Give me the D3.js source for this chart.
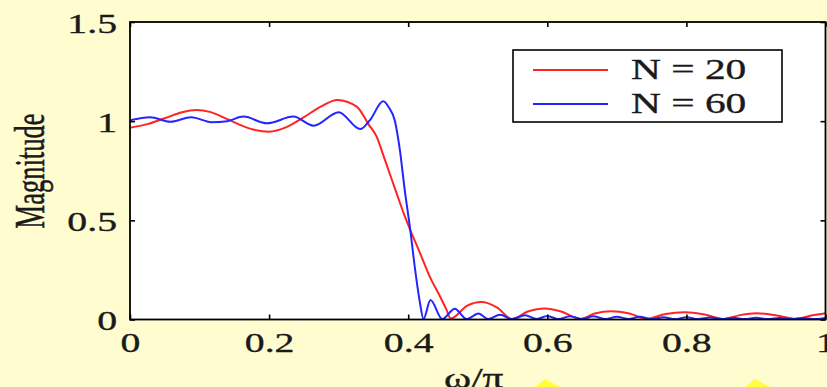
<!DOCTYPE html>
<html>
<head>
    <meta charset="UTF-8">
    <title>Magnitude response, N = 20 and N = 60</title>
    <script src="https://d3js.org/d3.v7.min.js"></script>
    <style type="text/css">
        body { margin: 0; background: #fffdd0; }
        svg text { font-family: "Liberation Serif", "Times New Roman", serif; fill: #1a1a1a; stroke: #1a1a1a; stroke-width: 0.35px; }
    </style>
</head>
<body>
    <svg id="chart"></svg>

    <script>
        // values (omega / pi  ->  |H|)
        const red_w = [0, 0.025, 0.05, 0.075, 0.095, 0.115, 0.14, 0.17, 0.2, 0.225, 0.25, 0.275, 0.298, 0.326,
            0.343, 0.355, 0.364, 0.374, 0.383, 0.393, 0.403, 0.417, 0.431, 0.446, 0.455, 0.461,
            0.485, 0.505, 0.528, 0.549, 0.572, 0.596, 0.62, 0.647, 0.668, 0.692, 0.718, 0.743,
            0.77, 0.798, 0.826, 0.853, 0.877, 0.901, 0.93, 0.957, 0.98, 1.0];
        const red_mag = [0.967, 0.985, 1.015, 1.045, 1.056, 1.047, 1.01, 0.965, 0.947, 0.97, 1.02, 1.075, 1.107, 1.073,
            0.984, 0.92, 0.83, 0.73, 0.64, 0.54, 0.451, 0.335, 0.216, 0.115, 0.05, 0.005,
            0.07, 0.088, 0.06, 0.003, 0.04, 0.055, 0.04, 0.003, 0.03, 0.042, 0.03, 0.003,
            0.028, 0.036, 0.025, 0.003, 0.022, 0.031, 0.02, 0.003, 0.02, 0.031];

        const blue_w = [0, 0.029, 0.058, 0.088, 0.117, 0.14, 0.163, 0.197, 0.235, 0.264, 0.3, 0.331, 0.345,
            0.364, 0.372, 0.381, 0.388, 0.395, 0.403, 0.41, 0.417, 0.422, 0.432, 0.449, 0.467, 0.484,
            0.501, 0.515, 0.532, 0.549, 0.568, 0.585, 0.6, 0.616, 0.633, 0.65, 0.666, 0.684, 0.7, 0.717,
            0.733, 0.75, 0.767, 0.784, 0.8, 0.817, 0.834, 0.851, 0.867, 0.884, 0.9, 0.917, 0.934, 0.951,
            0.967, 0.984, 1.0];
        const blue_mag = [1.005, 1.02, 0.997, 1.02, 0.995, 1.0, 1.023, 0.989, 1.023, 0.977, 1.045, 0.96, 1.005,
            1.1, 1.07, 1.0, 0.855, 0.653, 0.451, 0.25, 0.082, 0.002, 0.098, 0.002, 0.054, 0.002,
            0.03, 0.002, 0.024, 0.002, 0.021, 0.002, 0.018, 0.002, 0.017, 0.002, 0.016, 0.002, 0.014, 0.002,
            0.014, 0.002, 0.011, 0.002, 0.011, 0.002, 0.01, 0.002, 0.009, 0.002, 0.009, 0.002, 0.008, 0.002,
            0.008, 0.002, 0.008];

        const series_names = ["N = 20", "N = 60"];
        const series_colors = ["#ff2424", "#2424ff"];
        const x_ticks = [0, 0.2, 0.4, 0.6, 0.8, 1];
        const y_ticks = [0, 0.5, 1, 1.5];

        const WIDTH = 827;
        const HEIGHT = 387;
        const STRETCH = 1.42; // the picture is stretched sideways, so is its text

        const svg = d3.select("#chart")
            .attr("width", WIDTH)
            .attr("height", HEIGHT);

        svg.append("rect")
            .attr("width", WIDTH).attr("height", HEIGHT)
            .style("fill", "#fffdd0");

        // the two bright yellow marks at the bottom edge
        svg.selectAll(".spark").data([[545, 379], [755, 379]])
            .enter().append("path")
            .attr("class", "spark")
            .attr("d", (d) => `M${d[0]},${d[1]} L${d[0] - 10},${HEIGHT} L${d[0] + 15},${HEIGHT} Z`)
            .style("fill", "#ffff3c");

        const x = d3.scaleLinear().domain([0, 1]).range([130, 825.5]);
        const y = d3.scaleLinear().domain([0, 1.5]).range([319.5, 22]);

        svg.append("rect")
            .attr("x", x(0)).attr("y", y(1.5))
            .attr("width", x(1) - x(0)).attr("height", y(0) - y(1.5))
            .style("fill", "white");

        svg.append("defs").append("clipPath").attr("id", "plot_clip")
            .append("rect")
            .attr("x", x(0)).attr("y", y(1.5))
            .attr("width", x(1) - x(0)).attr("height", y(0) - y(1.5) + 1);

        const line = d3.line()
            .x((d) => x(d[0]))
            .y((d) => y(d[1]))
            .curve(d3.curveMonotoneX);

        const series = [d3.zip(red_w, red_mag), d3.zip(blue_w, blue_mag)];

        svg.append("g").attr("clip-path", "url(#plot_clip)")
            .selectAll("path").data(series)
            .enter().append("path")
            .attr("d", line)
            .style("fill", "none")
            .style("stroke", (d, i) => series_colors[i])
            .style("stroke-width", 2)
            .style("stroke-linejoin", "round");

        //---------axes, ticks point inwards on all four sides-----------
        const bottom = svg.append("g")
            .attr("transform", `translate(0,${y(0)})`)
            .call(d3.axisBottom(x).tickValues(x_ticks).tickSize(-5).tickFormat(d3.format("")));
        bottom.selectAll("text")
            .attr("y", 33).attr("dy", null)
            .attr("transform", `scale(${STRETCH},1)`)
            .style("font-size", "28px");

        const left = svg.append("g")
            .attr("transform", `translate(${x(0)},0)`)
            .call(d3.axisLeft(y).tickValues(y_ticks).tickSize(-5).tickFormat(d3.format("")));
        left.selectAll("text")
            .attr("x", -13 / STRETCH).attr("dy", null).attr("y", 10)
            .attr("transform", `scale(${STRETCH},1)`)
            .style("font-size", "28px");

        svg.append("g")
            .attr("transform", `translate(0,${y(1.5)})`)
            .call(d3.axisTop(x).tickValues(x_ticks).tickSize(-5).tickFormat(""));
        svg.append("g")
            .attr("transform", `translate(${x(1)},0)`)
            .call(d3.axisRight(y).tickValues(y_ticks).tickSize(-5).tickFormat(""));

        svg.selectAll(".domain").remove();
        svg.selectAll(".tick line").style("stroke", "black").style("stroke-width", 1.6);

        svg.append("rect")
            .attr("x", x(0)).attr("y", y(1.5))
            .attr("width", x(1) - x(0)).attr("height", y(0) - y(1.5))
            .style("fill", "none")
            .style("stroke", "black")
            .style("stroke-width", 1.8);

        //---------axis titles-----------
        svg.append("text")
            .attr("transform", `translate(${(x(0) + x(1)) / 2 - 4},388) scale(${STRETCH},1)`)
            .style("text-anchor", "middle")
            .style("font-size", "29px")
            .text("ω/π");

        svg.append("text")
            .attr("transform", `translate(44,171) rotate(-90) scale(1,1.6)`)
            .style("text-anchor", "middle")
            .style("font-size", "26.5px")
            .text("Magnitude");

        //---------legend-----------
        const legend = svg.append("g");
        legend.append("rect")
            .attr("x", 513).attr("y", 50)
            .attr("width", 269).attr("height", 72)
            .style("fill", "white")
            .style("stroke", "black")
            .style("stroke-width", 1.6);

        const items = legend.selectAll(".item").data(series_names)
            .enter().append("g")
            .attr("class", "item")
            .attr("transform", (d, i) => `translate(0,${70 + i * 34})`);

        items.append("line")
            .attr("x1", 533).attr("x2", 608)
            .style("stroke", (d, i) => series_colors[i])
            .style("stroke-width", 2);

        items.append("text")
            .attr("transform", `translate(631,9) scale(1.38,1)`)
            .style("font-size", "30px")
            .text((d) => d);
    </script>
</body>
</html>
